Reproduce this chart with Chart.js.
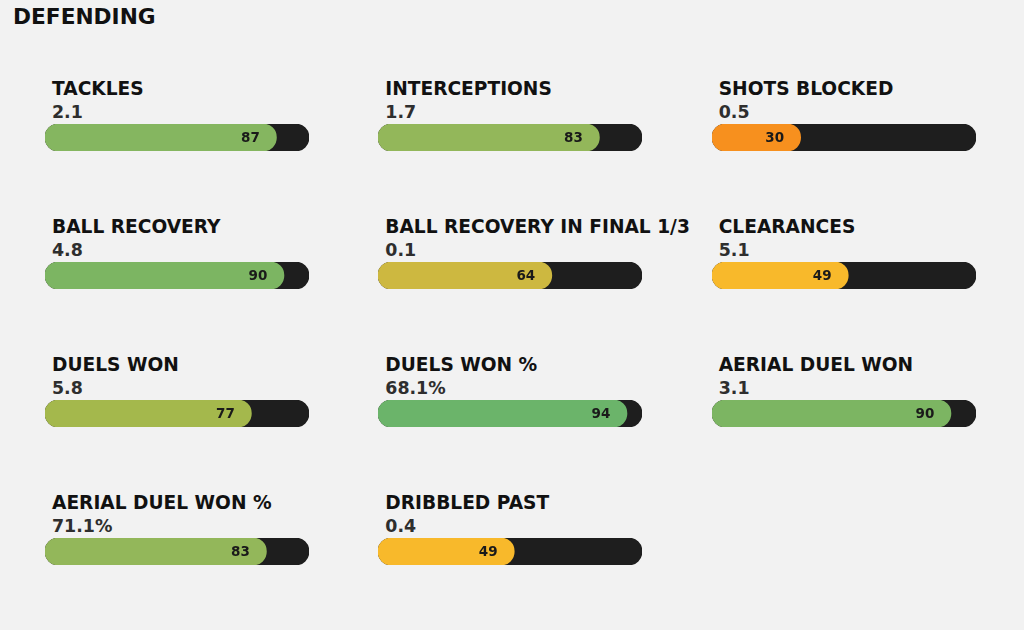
<!DOCTYPE html>
<html lang="en">
<head>
    <meta charset="UTF-8">
    <title>Defending</title>
    <script src="https://cdn.jsdelivr.net/npm/chart.js@4.4.0/dist/chart.umd.min.js"></script>
    <style>
        body { margin: 0; background: #f2f2f2; width: 1024px; height: 630px; overflow: hidden;
               font-family: "DejaVu Sans", sans-serif; font-weight: bold; }
        #page { position: relative; width: 1024px; height: 630px; }
        .heading { position: absolute; left: 13px; top: 6px; font-size: 21.7px; line-height: 22px; color: #111; }
        .name { position: absolute; font-size: 18.6px; line-height: 18px; color: #111; white-space: nowrap; }
        .val { position: absolute; font-size: 17.4px; line-height: 17px; color: #2e2e2e; }
        canvas { position: absolute; }
    </style>
</head>
<body>
<div id="page">
    <div class="heading">DEFENDING</div>
</div>

<script>

    const metricNames = ["TACKLES", "INTERCEPTIONS", "SHOTS BLOCKED",
        "BALL RECOVERY", "BALL RECOVERY IN FINAL 1/3", "CLEARANCES",
        "DUELS WON", "DUELS WON %", "AERIAL DUEL WON",
        "AERIAL DUEL WON %", "DRIBBLED PAST"];
    const metricValues = ["2.1", "1.7", "0.5",
        "4.8", "0.1", "5.1",
        "5.8", "68.1%", "3.1",
        "71.1%", "0.4"];
    const percentiles = [87, 83, 30,
        90, 64, 49,
        77, 94, 90,
        83, 49];

    const barColors = ["#85b660", "#93b75a", "#f7901e",
        "#7cb562", "#cdb840", "#f8b92b",
        "#a4b84c", "#6bb46a", "#7cb562",
        "#93b75a", "#f8b92b"];

    const trackColor = '#1e1e1e';
    const barStart = -5.4;   // rounded left cap sits before 0
    const colX = [45, 378.3, 711.7];
    const rowY = [123.5, 261.5, 399.5, 537.5];
    const trackW = 264, trackH = 27;

    const endLabel = {
        id: 'endLabel',
        afterDatasetsDraw(chart) {
            const ctx = chart.ctx;
            const bar = chart.getDatasetMeta(1).data[0];
            const p = chart.data.datasets[1].data[0][1];
            ctx.save();
            ctx.font = 'bold 13.5px "DejaVu Sans"';
            ctx.fillStyle = '#1a1a1a';
            ctx.textAlign = 'center';
            ctx.textBaseline = 'middle';
            ctx.fillText(String(p), bar.x - 26, bar.y + 0.5);
            ctx.restore();
        }
    };

    const page = document.getElementById('page');

    metricNames.forEach((name, i) => {
        const x = colX[i % 3];
        const y = rowY[Math.floor(i / 3)];

        const t = document.createElement('div');
        t.className = 'name';
        t.style.left = (x + 7) + 'px';
        t.style.top = (y - 43.5) + 'px';
        t.textContent = name;
        page.appendChild(t);

        const v = document.createElement('div');
        v.className = 'val';
        v.style.left = (x + 7) + 'px';
        v.style.top = (y - 19.5) + 'px';
        v.textContent = metricValues[i];
        page.appendChild(v);

        const c = document.createElement('canvas');
        c.width = trackW;
        c.height = trackH;
        c.style.left = x + 'px';
        c.style.top = y + 'px';
        page.appendChild(c);

        new Chart(c, {
            type: 'bar',
            data: {
                labels: [name],
                datasets: [
                    {
                        data: [[barStart, 100]],
                        backgroundColor: trackColor,
                        order: 1
                    },
                    {
                        data: [[barStart, percentiles[i]]],
                        backgroundColor: barColors[i],
                        order: 0
                    }
                ]
            },
            options: {
                indexAxis: 'y',
                responsive: false,
                animation: false,
                layout: { padding: 0 },
                datasets: {
                    bar: {
                        grouped: false,
                        barThickness: trackH,
                        borderRadius: 14,
                        borderSkipped: false,
                        borderWidth: 0
                    }
                },
                scales: {
                    x: { display: false, min: barStart, max: 100 },
                    y: { display: false }
                },
                plugins: {
                    legend: { display: false },
                    tooltip: { enabled: false }
                }
            },
            plugins: [endLabel]
        });
    });

</script>

</body>
</html>
